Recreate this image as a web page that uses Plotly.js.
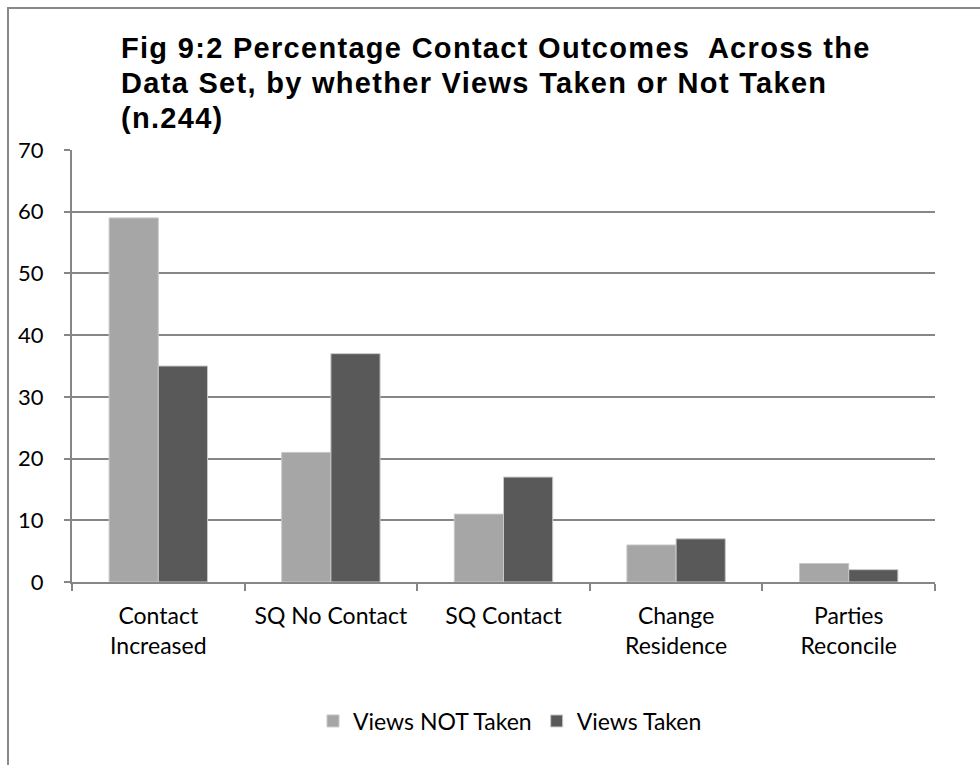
<!DOCTYPE html>
<html>
<head>
<meta charset="utf-8">
<script src="https://cdn.plot.ly/plotly-3.0.1.min.js"></script>
<style>
html,body{margin:0;padding:0;background:#fff;}
#chart{width:980px;height:765px;}
#frame{position:absolute;left:7px;top:7px;width:990px;height:780px;border-left:2px solid #898989;border-top:2px solid #898989;pointer-events:none;}
#chart .annotation-text{letter-spacing:1.3px;}
</style>
</head>
<body>
<div id="chart"></div>
<div id="frame"></div>
<script>
const categories = ["Contact<br>Increased", "SQ No Contact", "SQ Contact", "Change<br>Residence", "Parties<br>Reconcile"];
const viewsNotTaken = [59, 21, 11, 6, 3];
const viewsTaken = [35, 37, 17, 7, 2];
const yTicks = [0, 10, 20, 30, 40, 50, 60, 70];
const titleLines = [
  "Fig 9:2 Percentage Contact Outcomes&nbsp; Across the",
  "Data Set, by whether Views Taken or Not Taken",
  "(n.244)"
];

const traces = [
  {type: "bar", name: "Views NOT Taken", x: categories, y: viewsNotTaken,
   marker: {color: "#A6A6A6", line: {color: "#C8C8C8", width: 1}}},
  {type: "bar", name: "Views Taken", x: categories, y: viewsTaken,
   marker: {color: "#595959", line: {color: "#C8C8C8", width: 1}}}
];

// plot area: x 72..935 px, y 150..582 px
const plotBottom = 582, plotLeft = 72, plotW = 863, plotH = 432;
const lineCenters = [48, 83, 118];
const annotations = titleLines.map((t, i) => ({
  text: t, showarrow: false, align: "left",
  xref: "paper", yref: "paper",
  x: (119 - plotLeft) / plotW, xanchor: "left",
  y: (plotBottom - lineCenters[i]) / plotH, yanchor: "middle",
  font: {family: "'Liberation Sans', Arial, sans-serif", size: 29, color: "#000", weight: "bold"}
}));

const tickFont = {size: 23, family: "Lato, 'Open Sans', sans-serif", color: "#000"};

const layout = {
  width: 980, height: 765,
  margin: {l: 72, r: 45, t: 150, b: 183},
  paper_bgcolor: "#fff", plot_bgcolor: "#fff",
  font: {family: "Lato, 'Open Sans', sans-serif", color: "#000", size: 23},
  annotations: annotations,
  barmode: "group",
  bargap: 0.43,
  bargroupgap: 0,
  xaxis: {
    showline: true, linecolor: "#868686", linewidth: 2,
    ticks: "outside", ticklen: 7, tickcolor: "#868686", tickwidth: 2,
    tickson: "boundaries", showgrid: false,
    tickfont: tickFont,
    ticklabelstandoff: 12
  },
  yaxis: {
    range: [0, 70], tickvals: yTicks, ticktext: yTicks.map(String),
    showline: true, linecolor: "#868686", linewidth: 2,
    ticks: "outside", ticklen: 6, tickcolor: "#868686", tickwidth: 2,
    showgrid: true, gridcolor: "#868686", gridwidth: 2,
    zeroline: false,
    tickfont: {size: 22, family: "Lato, 'Open Sans', sans-serif", color: "#000"},
    ticklabelstandoff: 16
  },
  showlegend: true,
  legend: {
    orientation: "h", xref: "container", yref: "container",
    x: 510 / 980, xanchor: "center", y: 1 - 721 / 765, yanchor: "middle",
    font: {size: 23, family: "Lato, 'Open Sans', sans-serif", color: "#000"},
    itemwidth: 30, traceorder: "normal"
  }
};

Plotly.newPlot("chart", traces, layout, {displayModeBar: false, staticPlot: true});
</script>
</body>
</html>
